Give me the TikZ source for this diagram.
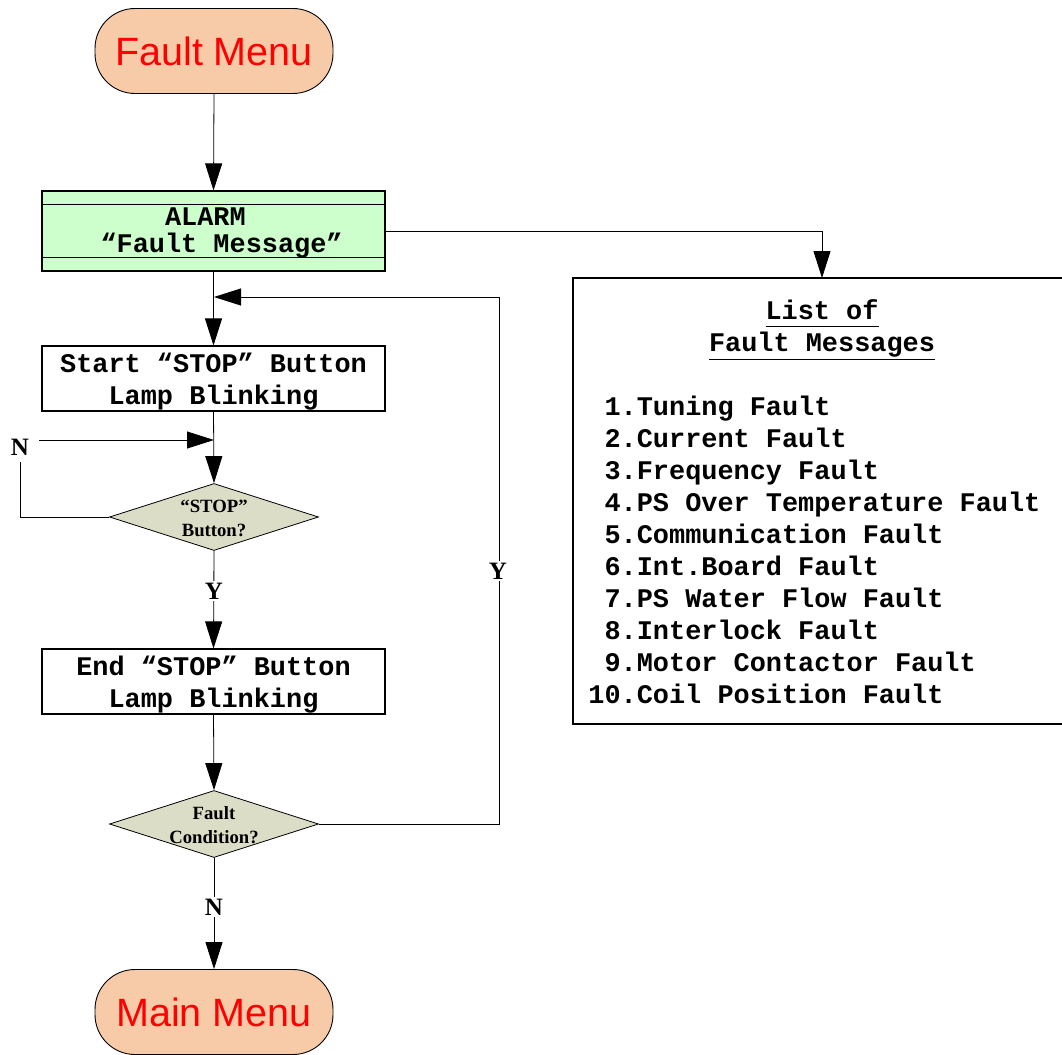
\documentclass[tikz,border=0pt]{standalone}
\usepackage{fontspec}
\setmainfont{Liberation Serif}
\newfontfamily\arialf{Liberation Sans}
\newfontfamily\courf{Liberation Mono}
\usetikzlibrary{shapes.geometric,arrows.meta,calc}
\definecolor{peach}{HTML}{F8CBA8}
\definecolor{alarmgreen}{HTML}{CCFFCC}
\definecolor{decfill}{HTML}{DCDDC6}
\begin{document}
\begin{tikzpicture}[x=1pt,y=-1pt, line width=0.8pt,
 term/.style={draw, line width=0.9pt, fill=peach, rounded corners=40pt, minimum width=238pt, minimum height=85pt, inner sep=0pt, font=\arialf\fontsize{39.5}{39.5}\selectfont, text=red},
 procbox/.style={draw, line width=1.1pt, minimum width=343pt, minimum height=65pt, inner sep=0pt},
 proctext/.style={align=center, inner sep=0pt, font=\courf\bfseries\fontsize{26.9}{32}\selectfont},
 dec/.style={draw, diamond, fill=decfill, minimum width=209pt, minimum height=67pt, inner sep=0pt},
 dectext/.style={align=center, font=\bfseries\fontsize{18.7}{24}\selectfont, inner sep=0pt},
 yn/.style={fill=white, font=\bfseries\fontsize{25}{25}\selectfont, inner sep=2pt},
 listfont/.style={font=\courf\bfseries\fontsize{26.9}{32}\selectfont, inner sep=0pt},
 arr/.style={-{Triangle[length=27pt,width=17pt]}},
]
\useasboundingbox (0,0) rectangle (1062,1054);

% nodes
\node[term] (fm) at (214,51) {Fault Menu};
\node[procbox, fill=alarmgreen, minimum height=80pt] (alarm) at (213.5,231) {};
\node[proctext, font=\courf\bfseries\fontsize{26.9}{26.5}\selectfont] (alarmt) at (213.5,233) {ALARM\phantom{A}\\\phantom{A}“Fault Message”};
\draw[line width=0.9pt] ($(alarm.north west)+(0,14)$) -- ($(alarm.north east)+(0,14)$);
\draw[line width=0.9pt] ($(alarm.south west)+(0,-14)$) -- ($(alarm.south east)+(0,-14)$);
\node[procbox] (sb1) at (213.5,378.5) {};
\node[proctext] (sb1t) at (213.5,381.5) {Start “STOP” Button\\Lamp Blinking};
\node[dec] (d1) at (214,517) {};
\node[dectext] (d1t) at (214,518) {“STOP”\\Button?};
\node[procbox] (sb2) at (213.5,681.5) {};
\node[proctext] (sb2t) at (213.5,684.5) {End “STOP” Button\\Lamp Blinking};
\node[dec] (d2) at (214,824) {};
\node[dectext] (d2t) at (214,825) {Fault\\Condition?};
\node[term] (mm) at (214,1012) {Main Menu};

\node[draw, line width=2pt, minimum width=497pt, minimum height=446pt, inner sep=0pt] (list) at (821.5,501) {};

\coordinate (lt) at (822,278);
\coordinate (jy) at (214,297);
\coordinate (jn) at (214,440);

% connectors
\draw[arr] (fm.south) -- (alarm.north);
\draw[arr] (alarm.east) -| (lt);
\draw[arr] (alarm.south) -- (sb1.north);
\draw[arr] (sb1.south) -- (d1.north);
\draw[arr] (d1.south) -- (sb2.north);
\draw[arr] (sb2.south) -- (d2.north);
\draw[arr] (d2.south) -- (mm.north);
\draw[arr] (d2.east) -- ++(180,0) |- (jy);

\node[yn, inner sep=0pt] (nl) at (20,447) {N};
\draw (d1.west) -| ($(nl.south)+(0,6)$);
\draw[arr] ($(nl.east |- jn)+(10,0)$) -- (jn);

\node[yn] (y1) at (214,591) {Y};
\node[yn] (y2) at (498,571) {Y};
\node[yn] (n2) at (214,907) {N};

% list contents
\node[listfont] (lt1) at (822,313) {\underline{List of\vphantom{g}}};
\node[listfont] (lt2) at (822,346) {\underline{Fault Messages}};
\foreach \t [count=\i from 0] in {\phantom{1}1.Tuning Fault,\phantom{1}2.Current Fault,\phantom{1}3.Frequency Fault,\phantom{1}4.PS Over Temperature Fault,\phantom{1}5.Communication Fault,\phantom{1}6.Int.Board Fault,\phantom{1}7.PS Water Flow Fault,\phantom{1}8.Interlock Fault,\phantom{1}9.Motor Contactor Fault,10.Coil Position Fault}
  \node[listfont, anchor=base west] (item\i) at (588,415+32.1*\i) {\t};
\end{tikzpicture}
\end{document}
